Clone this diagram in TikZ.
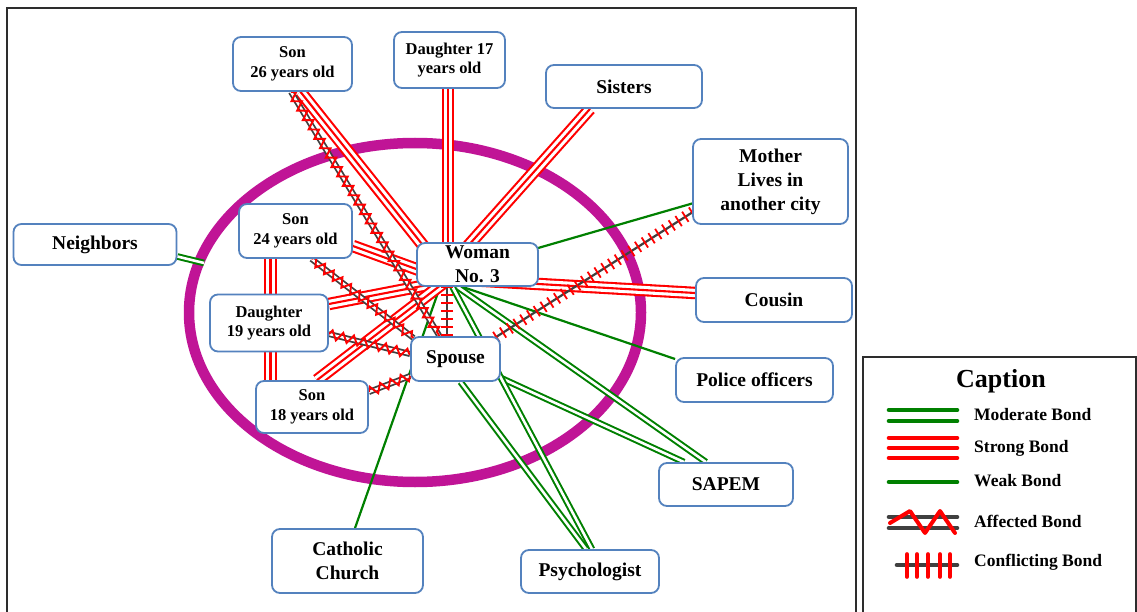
\documentclass[tikz,border=0pt]{standalone}
\usepackage{fontspec}
\setmainfont{Liberation Serif}
\usetikzlibrary{calc,decorations.pathmorphing,decorations.pathreplacing}

\definecolor{bondred}{RGB}{255,0,0}
\definecolor{bondgreen}{RGB}{0,128,0}
\definecolor{bondgrey}{RGB}{64,64,64}
\definecolor{boxblue}{RGB}{84,130,190}
\definecolor{ringpink}{RGB}{192,20,150}
\definecolor{framegrey}{RGB}{45,45,45}

\pgfdeclarelayer{paper}
\pgfdeclarelayer{ring}
\pgfdeclarelayer{edges}
\pgfsetlayers{paper,ring,edges,main}

\tikzset{
  box/.style={draw=boxblue, line width=1.8pt, rounded corners=8pt, fill=white,
    inner sep=0pt, align=center},
  bigtext/.style={font=\fontsize{19.5}{24}\selectfont\bfseries},
  smalltext/.style={font=\fontsize{16.5}{19.5}\selectfont\bfseries},
  legtext/.style={font=\fontsize{17.5}{21}\selectfont\bfseries, anchor=west, inner sep=0pt},
  strongout/.style={draw=bondred, line width=12.5pt},
  stronggap/.style={draw=white, line width=8.3pt},
  strongmid/.style={draw=bondred, line width=2.1pt},
  modout/.style={draw=bondgreen, line width=6.6pt},
  modgap/.style={draw=white, line width=2.6pt},
  weakline/.style={draw=bondgreen, line width=2.2pt},
  affout/.style={draw=bondgrey, line width=6pt},
  affgap/.style={draw=white, line width=2.4pt},
  affzig/.style={draw=bondred, line width=1.9pt, decorate,
    decoration={zigzag, segment length=11pt, amplitude=4.5pt}},
  confline/.style={draw=bondgrey, line width=2.2pt},
  conftick/.style={draw=bondred, line width=1.8pt, decorate,
    decoration={ticks, segment length=8pt, amplitude=6pt}},
  legline/.style={line width=4.6pt, line cap=round},
  frameline/.style={draw=framegrey, line width=1.6pt}
}

% bond drawing helpers: start point, end point
\newcommand\strongbond[2]{\draw[strongout] #1 -- #2; \draw[stronggap] #1 -- #2; \draw[strongmid] #1 -- #2;}
\newcommand\modbond[2]{\draw[modout] #1 -- #2; \draw[modgap] #1 -- #2;}
\newcommand\weakbond[2]{\draw[weakline] #1 -- #2;}
\newcommand\affbond[2]{\draw[affout] #1 -- #2; \draw[affgap] #1 -- #2; \draw[affzig] #1 -- #2;}
\newcommand\confbond[2]{\draw[confline] #1 -- #2; \draw[conftick] #1 -- #2;}

\begin{document}
\begin{tikzpicture}[x=1pt, y=-1pt]
\useasboundingbox (0,0) rectangle (1137,612);
\begin{pgfonlayer}{paper}
\fill[white] (0,0) rectangle (1137,612);
\end{pgfonlayer}

% outer frames
\draw[frameline] (7,613) -- (7,8) -- (856,8) -- (856,613);
\draw[frameline] (863,613) -- (863,357) -- (1136,357) -- (1136,613);

% people and services
\node[box, smalltext, minimum width=119pt, minimum height=54pt] (son26) at (292.5,64) {Son\\26 years old};
\node[box, smalltext, minimum width=111pt, minimum height=56pt] (d17) at (449.5,60) {Daughter 17\\years old};
\node[box, bigtext, minimum width=156pt, minimum height=43pt] (sisters) at (624,86.5) {Sisters};
\node[box, bigtext, minimum width=155pt, minimum height=85pt] (mother) at (770.5,181.5) {Mother\\Lives in\\another city};
\node[box, bigtext, minimum width=163pt, minimum height=41pt] (neighbors) at (95,244.5) {Neighbors};
\node[box, smalltext, minimum width=113pt, minimum height=54pt] (son24) at (295.5,231) {Son\\24 years old};
\node[box, bigtext, minimum width=121pt, minimum height=43pt] (woman) at (477.5,264.5) {Woman\\No. 3};
\node[box, bigtext, minimum width=156pt, minimum height=44pt] (cousin) at (774,300) {Cousin};
\node[box, smalltext, minimum width=118pt, minimum height=57pt] (d19) at (269,323) {Daughter\\19 years old};
\node[box, bigtext, minimum width=89pt, minimum height=44pt] (spouse) at (455.5,359) {Spouse};
\node[box, smalltext, minimum width=112pt, minimum height=52pt] (son18) at (312,407) {Son\\18 years old};
\node[box, bigtext, minimum width=157pt, minimum height=44pt] (police) at (754.5,380) {Police officers};
\node[box, bigtext, minimum width=134pt, minimum height=43pt] (sapem) at (726,484.5) {SAPEM};
\node[box, bigtext, minimum width=151pt, minimum height=64pt] (catholic) at (347.5,561) {Catholic\\Church};
\node[box, bigtext, minimum width=138pt, minimum height=43pt] (psych) at (590,571.5) {Psychologist};
\coordinate (nbend) at (204,263);

% household ring
\begin{pgfonlayer}{ring}
\draw[ringpink, line width=10.5pt] (415,312.5) ellipse [x radius=226pt, y radius=169.5pt];
\end{pgfonlayer}

% bonds
\begin{pgfonlayer}{edges}
\weakbond{($(catholic.north)+(7.5,0)$)}{($(woman.south)+(-37.5,0)$)}
\weakbond{($(police.west)+(0,-21)$)}{($(woman.south)+(-15,0)$)}
\weakbond{($(mother.west)+(0,22)$)}{($(woman)+(52,-14)$)}
\modbond{($(woman.south)+(-20,0)$)}{($(sapem.north)+(-20,0)$)}
\modbond{($(spouse.east)+(0,19)$)}{($(sapem.north)+(-42,0)$)}
\modbond{($(woman.south)+(-25,0)$)}{($(psych.north)+(2,0)$)}
\modbond{($(spouse.south)+(5,0)$)}{($(psych.north)+(-4,0)$)}
\modbond{($(neighbors.east)+(0,12)$)}{(nbend)}
\strongbond{($(cousin.west)+(0,-7)$)}{($(woman)+(0,16)$)}
\strongbond{($(sisters.south)+(-34,0)$)}{($(woman)+(-35,10)$)}
\strongbond{($(d17.south)+(-1.5,0)$)}{($(woman.north)+(-29.5,0)$)}
\strongbond{($(son26.south)+(8,0)$)}{($(woman)+(-36,4)$)}
\strongbond{($(son24.east)+(0,15)$)}{($(woman)+(-38,13)$)}
\strongbond{($(son24.south)+(-25,0)$)}{($(d19.north)+(1.5,0)$)}
\strongbond{($(d19.south)+(1.5,0)$)}{($(son18.north)+(-41.5,0)$)}
\strongbond{($(d19.east)+(0,-19)$)}{($(woman)+(-32,17)$)}
\strongbond{($(son18.north)+(5,0)$)}{($(woman)+(-32,17)$)}
\affbond{($(son26.south)+(-1.5,0)$)}{($(spouse.north)+(-16,0)$)}
\affbond{($(son24.south)+(16,0)$)}{($(spouse)+(-42,-21)$)}
\affbond{($(d19.east)+(0,11)$)}{($(spouse.west)+(0,-5)$)}
\affbond{($(son18.east)+(0,-15)$)}{($(spouse.west)+(0,17)$)}
\confbond{($(mother.west)+(0,31)$)}{($(spouse)+(39,-21)$)}
\confbond{($(woman.south)+(-30.5,0)$)}{($(spouse.north)+(-8.5,0)$)}
\end{pgfonlayer}

% caption
\node[font=\fontsize{26}{30}\selectfont\bfseries] (captitle) at (1001,381) {Caption};
\node[legtext] (lmod) at (974,415) {Moderate Bond};
\node[legtext] (lstrong) at (974,448) {Strong Bond};
\node[legtext] (lweak) at (974,481) {Weak Bond};
\node[legtext] (laff) at (974,521) {Affected Bond};
\node[legtext] (lconf) at (974,562) {Conflicting Bond};

\draw[legline, bondgreen] (889,410) -- (957,410);
\draw[legline, bondgreen] (889,421) -- (957,421);
\draw[legline, bondred] (889,438) -- (957,438);
\draw[legline, bondred] (889,448) -- (957,448);
\draw[legline, bondred] (889,458) -- (957,458);
\draw[legline, bondgreen] (889,482) -- (957,482);
\draw[legline, bondgrey] (889,517) -- (957,517);
\draw[legline, bondgrey] (889,528) -- (957,528);
\draw[bondred, line width=4pt, line cap=round, line join=round]
  (890,523) -- (910,511) -- (925,533) -- (940,511) -- (955,533);
\draw[legline, bondgrey] (897,565) -- (957,565);
\foreach \tx in {907,917,928,940,950}
  \draw[bondred, line width=3.6pt, line cap=round] (\tx,554) -- (\tx,577);
\end{tikzpicture}
\end{document}
